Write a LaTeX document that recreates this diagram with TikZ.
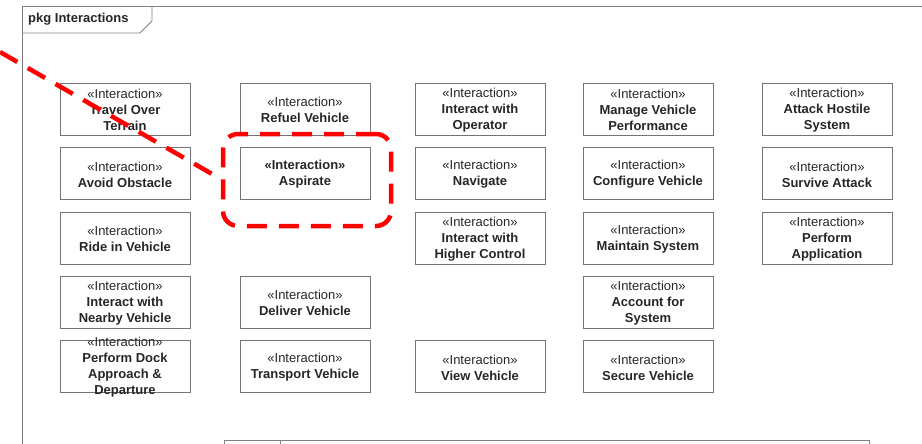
\documentclass[tikz,border=0pt]{standalone}
\usepackage{fontspec}
\setmainfont{Liberation Sans}
\begin{document}
\begin{tikzpicture}[x=1pt,y=-1pt,
  box/.style={draw=black!55,line width=0.9pt,minimum width=130pt,minimum height=52pt,inner sep=0pt},
  lbl/.style={align=center,text=black!85,font=\fontsize{13}{16}\selectfont,inner sep=0pt,yshift=-1pt},
  frameline/.style={draw=black!50,line width=0.9pt},
  reddash/.style={draw=red,line width=4.5pt,dash pattern=on 20pt off 12pt}]
\useasboundingbox (0,0) rectangle (922,444);
% package frame
\draw[frameline] (922,6) -- (22,6) -- (22,444);
\draw[frameline] (22,33) -- (140,33) -- (152,21) -- (152,6);
\node[anchor=west,font=\fontsize{13}{15}\selectfont\bfseries,text=black!85,inner sep=0pt] (title) at (28,19) {pkg Interactions};
% bottom partial element
\draw[frameline,line width=0.7pt] (224,444) -- (224,440) -- (869,440) -- (869,444);
\draw[frameline,line width=0.7pt] (280,440) -- (280,444);
% boxes
\foreach \n/\x/\y/\t in {
  a1/125/109/{\textbf{Travel Over}\\\textbf{Terrain}},
  a2/305/109/{\textbf{Refuel Vehicle}},
  a3/480/109/{\textbf{Interact with}\\\textbf{Operator}},
  a4/648/109/{\textbf{Manage Vehicle}\\\textbf{Performance}},
  a5/827/109/{\textbf{Attack Hostile}\\\textbf{System}},
  b1/125/173.5/{\textbf{Avoid Obstacle}},
  b3/480/173.5/{\textbf{Navigate}},
  b4/648/173.5/{\textbf{Configure Vehicle}},
  b5/827/173.5/{\textbf{Survive Attack}},
  c1/125/238/{\textbf{Ride in Vehicle}},
  c3/480/238/{\textbf{Interact with}\\\textbf{Higher Control}},
  c4/648/238/{\textbf{Maintain System}},
  c5/827/238/{\textbf{Perform}\\\textbf{Application}},
  d1/125/302/{\textbf{Interact with}\\\textbf{Nearby Vehicle}},
  d2/305/302/{\textbf{Deliver Vehicle}},
  d4/648/302/{\textbf{Account for}\\\textbf{System}},
  e1/125/366.5/{\textbf{Perform Dock}\\\textbf{Approach \&}\\\textbf{Departure}},
  e2/305/366.5/{\textbf{Transport Vehicle}},
  e3/480/366.5/{\textbf{View Vehicle}},
  e4/648/366.5/{\textbf{Secure Vehicle}}}{
  \node[box] (\n) at (\x,\y) {};
  \node[lbl] (\n t) at (\n) {«Interaction»\\\t};
}
\node[box] (b2) at (305,173.5) {};
\node[lbl] (b2t) at (b2) {\textbf{«Interaction»}\\\textbf{Aspirate}};
% red highlight
\node[reddash,rounded corners=15pt,minimum width=168pt,minimum height=92pt,inner sep=0pt] (hl) at (307,180) {};
\coordinate (start) at (0,52);
\draw[reddash] (start) -- (hl.west |- 0,179);
\end{tikzpicture}
\end{document}
